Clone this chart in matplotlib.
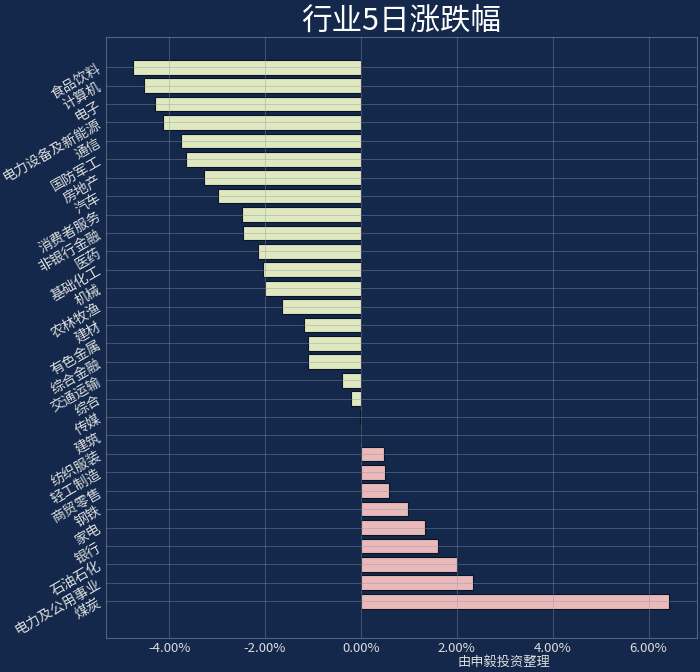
import numpy as np
import matplotlib
matplotlib.use('Agg')
import matplotlib.pyplot as plt
from matplotlib.ticker import FuncFormatter

plt.rcParams['font.family'] = ['Noto Sans CJK SC', 'DejaVu Sans']
plt.rcParams['axes.unicode_minus'] = False

# 行业5日涨跌幅 (%)
industries = ['食品饮料', '计算机', '电子', '电力设备及新能源', '通信', '国防军工', '房地产', '汽车',
              '消费者服务', '非银行金融', '医药', '基础化工', '机械', '农林牧渔', '建材', '有色金属',
              '综合金融', '交通运输', '综合', '传媒', '建筑', '纺织服装', '轻工制造', '商贸零售',
              '钢铁', '家电', '银行', '石油石化', '电力及公用事业', '煤炭']
changes = [-4.75, -4.53, -4.29, -4.13, -3.75, -3.64, -3.28, -2.98,
           -2.48, -2.47, -2.15, -2.04, -2.00, -1.65, -1.19, -1.11,
           -1.10, -0.40, -0.21, -0.02, 0.0, 0.48, 0.50, 0.58,
           0.99, 1.33, 1.60, 2.00, 2.34, 6.42]

bg = '#13284a'
green = '#dfe8bf'
pink = '#eababa'

fig = plt.figure(figsize=(7, 6.72), dpi=100, facecolor=bg)
ax = fig.add_axes([0.152, 0.0506, 0.8436, 0.894], facecolor=bg)

y = np.arange(len(industries))
colors = [green if v < 0 else pink for v in changes]
ax.barh(y, changes, height=0.8, color=colors, edgecolor='#0a1426', linewidth=0.8)

ax.set_yticks(y)
ax.set_yticklabels(industries, rotation=30, fontsize=10, color='#dcdcdc')
ax.set_ylim(len(industries) - 1 + 2.0, -1.63)

ax.xaxis.set_major_formatter(FuncFormatter(lambda v, p: f'{v:.2f}%'))
ax.set_xticks([-4, -2, 0, 2, 4, 6])
for lab in ax.get_xticklabels():
    lab.set_fontsize(9.5)
    lab.set_color('#dcdcdc')
ax.set_xlim(-5.31, 7.01)

ax.tick_params(axis='y', length=0, pad=2)
ax.tick_params(axis='x', length=0, pad=3)
ax.grid(True, color='#8a97ab', alpha=0.4, linewidth=0.7)
ax.set_axisbelow(False)
for s in ax.spines.values():
    s.set_color('#55657f')
    s.set_linewidth(0.8)

ax.set_title('行业5日涨跌幅', fontsize=22, color='white', pad=3)
ax.set_xlabel('由申毅投资整理', fontsize=9.5, color='#dcdcdc')
ax.xaxis.set_label_coords(0.673, -0.03)

fig.savefig('out.png', facecolor=bg)
